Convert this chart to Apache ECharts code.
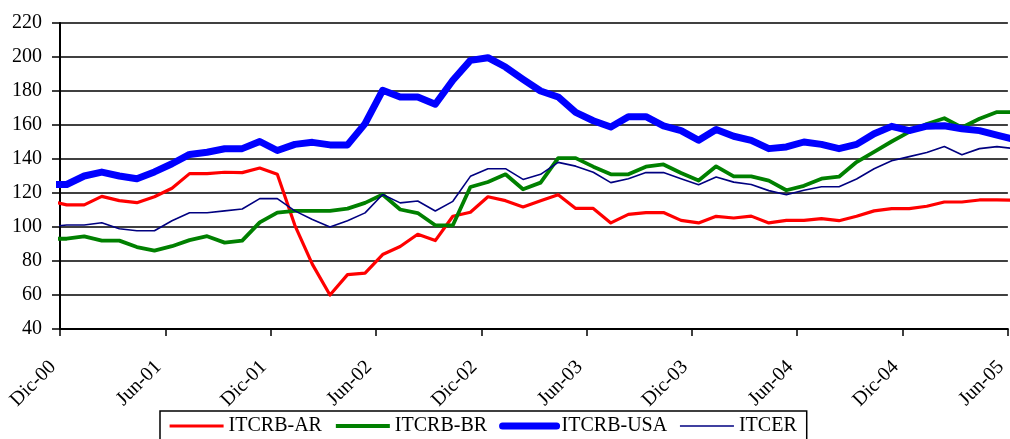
<!DOCTYPE html>
<html>
<head>
<meta charset="utf-8">
<script src="https://cdn.jsdelivr.net/npm/echarts@6/dist/echarts.min.js"></script>
<style>
  html, body { margin: 0; padding: 0; background: #fff; }
  #chart { width: 1010px; height: 439px; }
</style>
</head>
<body>
<div id="chart"></div>
<script>
// Monthly observations (Nov-00 .. Jun-05)
const months = [
  'Nov-00','Dic-00',
  'Ene-01','Feb-01','Mar-01','Abr-01','May-01','Jun-01','Jul-01','Ago-01','Sep-01','Oct-01','Nov-01','Dic-01',
  'Ene-02','Feb-02','Mar-02','Abr-02','May-02','Jun-02','Jul-02','Ago-02','Sep-02','Oct-02','Nov-02','Dic-02',
  'Ene-03','Feb-03','Mar-03','Abr-03','May-03','Jun-03','Jul-03','Ago-03','Sep-03','Oct-03','Nov-03','Dic-03',
  'Ene-04','Feb-04','Mar-04','Abr-04','May-04','Jun-04','Jul-04','Ago-04','Sep-04','Oct-04','Nov-04','Dic-04',
  'Ene-05','Feb-05','Mar-05','Abr-05','May-05','Jun-05'
];

const itcrbAR = [
  115.5, 113, 113, 118, 115.5, 114.3, 117.8, 122.8, 131.4, 131.4, 132.2, 132, 134.7, 131,
  101, 78, 60, 72, 72.9, 83.8, 88.5, 95.7, 92, 106.3, 108.7, 117.8,
  115.5, 111.8, 115.5, 119, 110.9, 110.9, 102.4, 107.4, 108.5, 108.5, 103.9, 102.4,
  106.3, 105.3, 106.4, 102.4, 103.9, 103.9, 104.9, 103.7, 106.3, 109.5, 110.8, 110.8,
  112.2, 114.7, 114.7, 115.9, 115.9, 115.7
];

const itcrbBR = [
  93.1, 93.1, 94.5, 92, 92, 88.2, 86.1, 88.7, 92.3, 94.6, 90.8, 92, 102.7, 108.5,
  109.5, 109.5, 109.5, 110.8, 114.2, 119.1, 110.3, 108.2, 101, 101, 123.5, 126.5,
  131, 122.2, 126.1, 140.5, 140.5, 135.5, 131, 131, 135.5, 136.8, 131.8, 127.3,
  135.7, 129.8, 129.8, 127.3, 121.6, 124.2, 128.4, 129.6, 138.2, 144.2, 150.3, 156,
  160.6, 164, 158.5, 163.7, 167.6, 167.6
];

const itcrbUSA = [
  125, 125, 130, 132.3, 130, 128.4, 132.4, 137.2, 142.7, 144, 146, 146.1, 150.3, 145,
  148.6, 149.8, 148.3, 148.3, 160.8, 180.4, 176.5, 176.5, 172.2, 186.3, 198, 199.6,
  194.1, 186.9, 180, 176.5, 167.4, 162.5, 158.8, 164.9, 164.9, 159.5, 156.7, 151,
  157.4, 153.4, 151, 146.1, 147.1, 150, 148.6, 146.1, 148.6, 154.9, 159.2, 156.7,
  159.3, 159.6, 157.8, 156.7, 154.1, 151.5
];

const itcer = [
  100.2, 101.2, 101.2, 102.5, 99, 97.8, 97.8, 103.7, 108.4, 108.4, 109.5, 110.6, 116.7, 116.7,
  109.5, 104.4, 100, 103.7, 108.3, 119.1, 114.2, 115.3, 109.4, 115.1, 129.8, 134.3,
  134.3, 128, 131, 138, 135.8, 132.2, 126.1, 128.4, 132, 132, 128.4, 124.9,
  129.4, 126.4, 125, 121.4, 119, 121.6, 123.7, 123.7, 128.2, 134.3, 139, 141.4,
  143.8, 147.3, 142.5, 146.1, 147.3, 146.1
];

const tickLabels = ['Dic-00','Jun-01','Dic-01','Jun-02','Dic-02','Jun-03','Dic-03','Jun-04','Dic-04','Jun-05'];
const seriesNames = ['ITCRB-AR','ITCRB-BR','ITCRB-USA','ITCER'];

// x axis is measured in months from the Dic-00 tick; each monthly point sits
// a fraction of a month after its tick mark (as in the source chart).
const pointPhase = 0.38;
const firstMonthOffset = -1; // Nov-00 is one month before Dic-00
const toPairs = vals => vals.map((v, i) => [firstMonthOffset + i + pointPhase, v]);

const FONT = 'Liberation Serif';
const chart = echarts.init(document.getElementById('chart'), null, { renderer: 'canvas' });

function lineSeries(name, vals, color, width, cap) {
  return {
    name, type: 'line', data: toPairs(vals),
    showSymbol: false, symbol: 'none', clip: false,
    lineStyle: { color, width, join: 'round', cap: cap || 'butt' },
    itemStyle: { color },
    emphasis: { disabled: true },
    animation: false
  };
}

chart.setOption({
  animation: false,
  backgroundColor: '#fff',
  textStyle: { fontFamily: FONT },
  grid: { left: 60, top: 23, width: 948, height: 306, containLabel: false },
  xAxis: {
    type: 'value', min: 0, max: 54, interval: 6,
    axisLine: { show: true, onZero: false, lineStyle: { color: '#000', width: 2 } },
    axisTick: { show: true, inside: false, length: 7, lineStyle: { color: '#000', width: 1.5 } },
    splitLine: { show: false },
    axisLabel: {
      rotate: 45, margin: 28, color: '#000', fontFamily: FONT, fontSize: 20,
      padding: [0, 10, 0, 0],
      formatter: v => tickLabels[Math.round(v / 6)] || ''
    }
  },
  yAxis: {
    type: 'value', min: 40, max: 220, interval: 20,
    axisLine: { show: true, lineStyle: { color: '#000', width: 2 } },
    axisTick: { show: true, length: 8, lineStyle: { color: '#000', width: 1.5 } },
    splitLine: { show: true, lineStyle: { color: '#000', width: 1.5 } },
    axisLabel: { margin: 18, color: '#000', fontFamily: FONT, fontSize: 20 }
  },
  legend: {
    show: true,
    data: seriesNames,
    left: 160, top: 411,
    orient: 'horizontal',
    padding: [5, 10, 8, 8],
    itemGap: 12, itemWidth: 54, itemHeight: 14,
    borderColor: '#000', borderWidth: 1.5,
    backgroundColor: '#fff',
    itemStyle: { color: 'rgba(0,0,0,0)', borderColor: 'rgba(0,0,0,0)', borderWidth: 0, opacity: 0 },
    lineStyle: { width: 'inherit' },
    textStyle: { color: '#000', fontFamily: FONT, fontSize: 20 },
    selectedMode: false
  },
  series: [
    lineSeries(seriesNames[0], itcrbAR, '#ff0000', 3.2),
    lineSeries(seriesNames[1], itcrbBR, '#008000', 3.8),
    lineSeries(seriesNames[2], itcrbUSA, '#0000ff', 7, 'round'),
    lineSeries(seriesNames[3], itcer, '#000080', 1.6)
  ]
});
</script>
</body>
</html>
